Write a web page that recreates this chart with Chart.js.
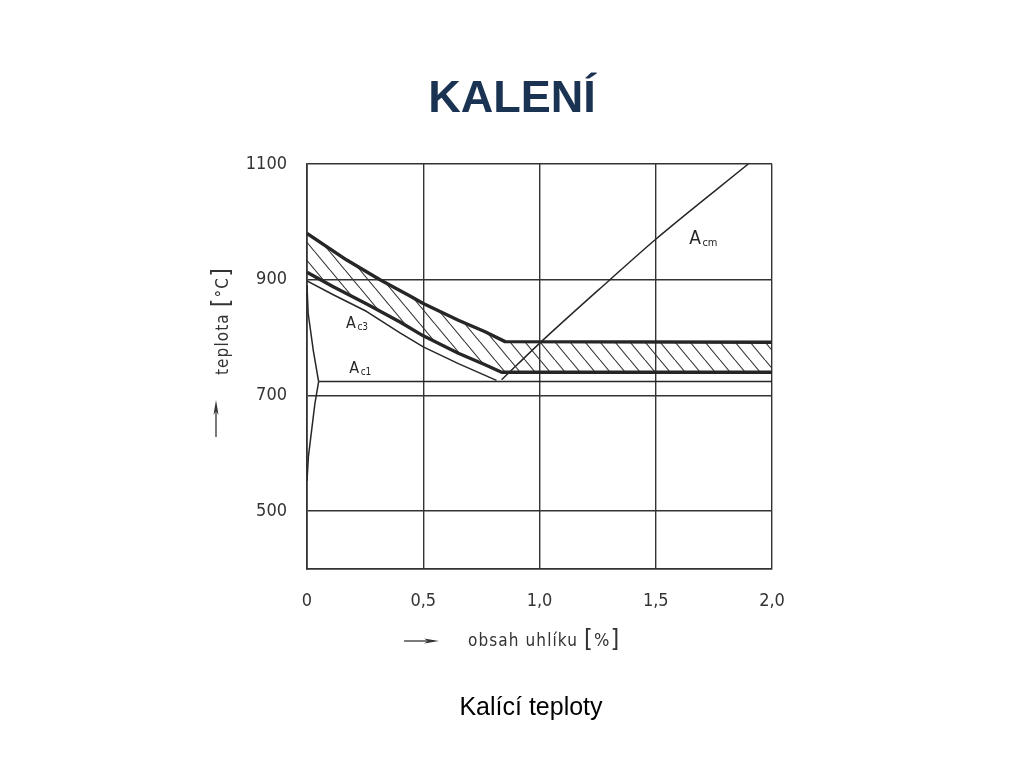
<!DOCTYPE html>
<html>
<head>
<meta charset="utf-8">
<script src="https://cdn.jsdelivr.net/npm/chart.js@4"></script>
<style>
html,body{margin:0;padding:0;background:#fff;width:1024px;height:768px;overflow:hidden;}
#wrap{position:relative;width:1024px;height:768px;}
#chart{position:absolute;left:0;top:0;}
.t{position:absolute;white-space:nowrap;}
#title{left:0;width:1024px;top:74px;text-align:center;font:bold 45px "Liberation Sans",Arial,sans-serif;color:#1b3352;line-height:45px;}
#caption{left:431px;width:200px;top:694px;text-align:center;font:25px "Liberation Sans",Arial,sans-serif;line-height:25px;color:#000;}
.ax{font-family:"DejaVu Sans Condensed","DejaVu Sans",sans-serif;font-size:17px;color:#333;letter-spacing:1.1px;line-height:20px;}
.br{font-size:25px;line-height:0;vertical-align:-1px;font-weight:300;}
.pc{font-size:18px;line-height:0;}
#xt{left:468px;top:630px;}
#yt{left:152px;top:311px;width:140px;height:20px;text-align:center;transform:rotate(-90deg);}
#xa{left:404px;top:635px;}
#ya{left:206px;top:399px;}
</style>
</head>
<body>
<div id="wrap">
<canvas id="chart" width="1024" height="768"></canvas>
<div class="t" id="title">KALENÍ</div>
<div class="t ax" id="yt">teplota <span class="br">[</span>°C<span class="br">]</span></div>
<div class="t ax" id="xt">obsah uhlíku <span class="br">[</span><span class="pc">%</span><span class="br">]</span></div>
<svg class="t" id="xa" width="36" height="12" viewBox="0 0 36 12"><line x1="0" y1="6" x2="30" y2="6" stroke="#333" stroke-width="1.3"/><path d="M20 3.5 L35 6 L20 8.5 L24 6 Z" fill="#333"/></svg>
<svg class="t" id="ya" width="20" height="38" viewBox="0 0 20 38"><line x1="10" y1="38" x2="10" y2="6" stroke="#333" stroke-width="1.3"/><path d="M7.5 16 L10 1 L12.5 16 L10 12 Z" fill="#333"/></svg>
<div class="t" id="caption">Kalící teploty</div>
</div>
<script>
// ---- data (carbon % , temperature °C) ----
const xTicks = [0, 0.5, 1.0, 1.5, 2.0];
const xTickLabels = ['0', '0,5', '1,0', '1,5', '2,0'];
const yTicks = [500, 700, 900, 1100];

const hardenUpper = [[0,980],[0.171,934],[0.314,900],[0.443,872],[0.5,859],[0.651,830],[0.766,810],[0.852,793],[2.0,792]];
const hardenLower = [[0,913],[0.113,888],[0.257,858],[0.4,827],[0.5,803],[0.651,773],[0.766,753],[0.837,740],[2.0,740]];
const ac3Line     = [[0,898],[0.113,874],[0.257,845],[0.4,808],[0.5,784],[0.651,755],[0.815,726]];
const ac1Line     = [[0.05,724],[2.0,724]];
const gpLine      = [[0,890],[0.005,842],[0.027,778],[0.05,724]];
const pqLine      = [[0.05,724],[0.034,686],[0.02,640],[0.006,594],[0,552]];
const acmLine     = [[0.837,727],[1.0,790],[1.303,900],[1.5,970],[1.898,1100]];

const curveLabels = [
  {base:'A', sub:'c3', x:0.168, y:816},
  {base:'A', sub:'c1', x:0.182, y:739},
  {base:'A', sub:'cm', x:1.644, y:962}
];
const labelSizes = [[16,10],[16,10],[19,11]];

const pts = a => a.map(p => ({x:p[0], y:p[1]}));

function makeHatch(){
  const c = document.createElement('canvas');
  c.width = 15; c.height = 18;
  const g = c.getContext('2d');
  g.strokeStyle = '#333'; g.lineWidth = 1.1;
  g.beginPath();
  for (const o of [-15, 0, 15]) { g.moveTo(o, 0); g.lineTo(o + 15, 18); }
  g.stroke();
  return g.createPattern(c, 'repeat');
}

const INK = '#262626';
const tickFont = {family:'"DejaVu Sans Condensed","DejaVu Sans",sans-serif', size:18};
const thin = 1.5, thick = 3.4;

const labelPlugin = {
  id: 'curveLabels',
  afterDatasetsDraw(chart){
    const {ctx, scales:{x, y}} = chart;
    ctx.save();
    ctx.fillStyle = INK;
    ctx.textBaseline = 'alphabetic';
    ctx.textAlign = 'left';
    curveLabels.forEach((l, i) => {
      const px = x.getPixelForValue(l.x), py = y.getPixelForValue(l.y);
      const [bs, ss] = labelSizes[i];
      ctx.font = bs + 'px ' + tickFont.family;
      ctx.fillText(l.base, px, py);
      const w = ctx.measureText(l.base).width;
      ctx.font = ss + 'px ' + tickFont.family;
      ctx.fillText(l.sub, px + w + 1.5, py + 2);
    });
    ctx.restore();
  }
};

const line = (data, width, extra) => Object.assign({
  data: pts(data), borderColor: INK, borderWidth: width, pointRadius: 0,
  fill: false, tension: 0, borderJoinStyle: 'round'
}, extra || {});

new Chart(document.getElementById('chart'), {
  type: 'line',
  data: {
    datasets: [
      line(hardenUpper, thick),
      line(hardenLower, thick, {fill: '-1', backgroundColor: makeHatch()}),
      line(ac3Line, thin),
      line(ac1Line, thin),
      line(gpLine, thin),
      line(pqLine, thin),
      line(acmLine, thin, {cubicInterpolationMode: 'monotone'})
    ]
  },
  options: {
    responsive: false,
    animation: false,
    devicePixelRatio: 1,
    layout: {padding: {left: 217, right: 252, top: 164, bottom: 149}},
    plugins: {legend: {display: false}, tooltip: {enabled: false}},
    scales: {
      x: {
        type: 'linear', min: 0, max: 2,
        afterBuildTicks: s => { s.ticks = xTicks.map(v => ({value: v})); },
        afterFit: s => { s.height = 50; },
        ticks: {font: tickFont, color: '#333', padding: 22, maxRotation: 0,
                callback: (v, i) => xTickLabels[i]},
        grid: {color: '#333', lineWidth: 1.4, drawTicks: false},
        border: {display: true, color: '#333', width: 1.7}
      },
      y: {
        type: 'linear', min: 400, max: 1100,
        afterBuildTicks: s => { s.ticks = yTicks.map(v => ({value: v})); },
        afterFit: s => { s.width = 90; },
        ticks: {font: tickFont, color: '#333', padding: 20, callback: v => String(v)},
        grid: {color: '#333', lineWidth: 1.4, drawTicks: false},
        border: {display: true, color: '#333', width: 1.7}
      }
    }
  },
  plugins: [labelPlugin]
});
</script>
</body>
</html>
